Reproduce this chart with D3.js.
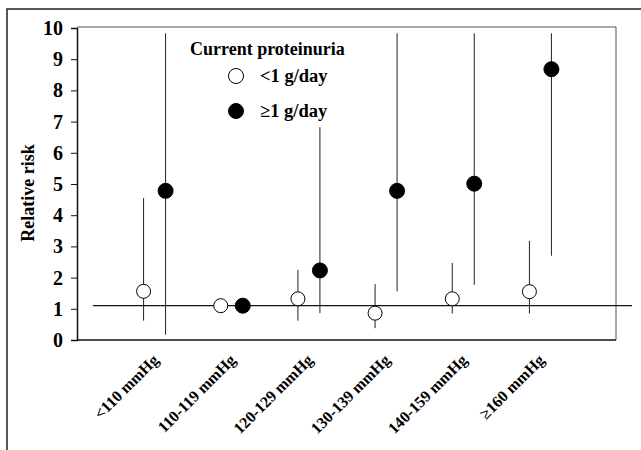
<!DOCTYPE html>
<html>
<head>
<meta charset="utf-8">
<script src="https://cdn.jsdelivr.net/npm/d3@7"></script>
<style>
  body { margin: 0; background: #fff; }
  svg { display: block; font-family: 'Liberation Serif', 'Times New Roman', serif; }
</style>
</head>
<body>
<div id="chart"></div>
<script>
const categories = ['<110 mmHg', '110-119 mmHg', '120-129 mmHg', '130-139 mmHg', '140-159 mmHg', '\u2265160 mmHg']
const yTicks = [0, 1, 2, 3, 4, 5, 6, 7, 8, 9, 10]
const refValue = 1.1

// <1 g/day (open circles)
const lowRisk = [1.56, 1.1, 1.32, 0.86, 1.32, 1.55]
const lowLower = [0.62, 1.1, 0.62, 0.38, 0.85, 0.85]
const lowUpper = [4.55, 1.1, 2.25, 1.79, 2.47, 3.18]

// >=1 g/day (filled circles)
const highRisk = [4.78, 1.1, 2.23, 4.78, 5.01, 8.68]
const highLower = [0.17, 1.1, 0.86, 1.56, 1.77, 2.7]
const highUpper = [9.83, 1.1, 6.82, 9.83, 9.83, 9.83]

const W = 641, H = 450
const margin = { top: 27, right: 25, bottom: 110, left: 77 }

const svg = d3.select('#chart').append('svg')
  .attr('width', W)
  .attr('height', H)

// outer frame (only left and top visible)
svg.append('path')
  .attr('d', `M7,${H} L7,9 L${W},9`)
  .attr('fill', 'none')
  .attr('stroke', '#222')
  .attr('stroke-width', 1.5)

const x = d3.scaleBand()
  .domain(categories)
  .range([116, 579])
  .padding(0)

const y = d3.scaleLinear()
  .domain([0, 10])
  .range([H - margin.bottom, margin.top + 1])

const dodge = 11
const r = 7

// plot frame
svg.append('path')
  .attr('d', `M${margin.left},${margin.top} L${W - margin.right},${margin.top} L${W - margin.right},${y(0)}`)
  .attr('fill', 'none')
  .attr('stroke', '#555')
  .attr('stroke-width', 1)

// y axis
const yAxis = svg.append('g')
  .attr('transform', `translate(${margin.left},0)`)
  .call(d3.axisLeft(y).tickValues(yTicks).tickSize(6).tickPadding(8).tickFormat(d3.format('d')))
yAxis.select('.domain').attr('stroke', '#111').attr('stroke-width', 1.5)
yAxis.selectAll('.tick line').attr('stroke', '#111')
yAxis.selectAll('.tick text')
  .attr('font-size', '20px')
  .attr('font-weight', 'bold')
  .attr('font-family', "'Liberation Serif', serif")
  .attr('fill', '#000')

// x axis (line only, labels rotated)
const xAxis = svg.append('g')
  .attr('transform', `translate(0,${y(0)})`)
  .call(d3.axisBottom(x).tickSize(0).tickPadding(0))
xAxis.select('.domain')
  .attr('d', `M${margin.left},0H${W - margin.right}`)
  .attr('stroke', '#111')
  .attr('stroke-width', 1.5)
xAxis.selectAll('.tick text')
  .attr('font-size', '16px')
  .attr('font-weight', 'bold')
  .attr('font-family', "'Liberation Serif', serif")
  .attr('fill', '#000')
  .attr('text-anchor', 'end')
  .attr('dy', null)
  .attr('y', 0)
  .attr('transform', 'translate(5,21) rotate(-45)')

// y title
svg.append('text')
  .attr('transform', `translate(34,${193}) rotate(-90)`)
  .attr('text-anchor', 'middle')
  .attr('font-size', '18px')
  .attr('font-weight', 'bold')
  .text('Relative risk')

// reference line
svg.append('line')
  .attr('x1', 93)
  .attr('x2', 632)
  .attr('y1', y(refValue))
  .attr('y2', y(refValue))
  .attr('stroke', '#111')
  .attr('stroke-width', 1.2)

const cx = (i, side) => x(categories[i]) + x.bandwidth() / 2 + side * dodge

const lowData = categories.map((c, i) => ({ i, v: lowRisk[i], lo: lowLower[i], hi: lowUpper[i] }))
const highData = categories.map((c, i) => ({ i, v: highRisk[i], lo: highLower[i], hi: highUpper[i] }))

function drawSeries(data, side, fill) {
  const g = svg.append('g')
  g.selectAll('line.ci')
    .data(data)
    .enter()
    .append('line')
    .attr('class', 'ci')
    .attr('x1', d => cx(d.i, side))
    .attr('x2', d => cx(d.i, side))
    .attr('y1', d => y(d.lo))
    .attr('y2', d => y(d.hi))
    .attr('stroke', '#222')
    .attr('stroke-width', 1)
  g.selectAll('circle')
    .data(data)
    .enter()
    .append('circle')
    .attr('cx', d => cx(d.i, side))
    .attr('cy', d => y(d.v))
    .attr('r', side < 0 ? r : r + 0.5)
    .attr('fill', fill)
    .attr('stroke', '#000')
    .attr('stroke-width', 1)
}

drawSeries(lowData, -1, '#fff')
drawSeries(highData, 1, '#000')

// legend
const legend = svg.append('g')
legend.append('text')
  .attr('x', 190)
  .attr('y', 55)
  .attr('font-size', '18px')
  .attr('font-weight', 'bold')
  .text('Current proteinuria')

const legendItems = [
  { label: '<1 g/day', fill: '#fff', y: 76 },
  { label: '\u22651 g/day', fill: '#000', y: 111 }
]
legendItems.forEach(d => {
  legend.append('circle')
    .attr('cx', 236)
    .attr('cy', d.y)
    .attr('r', 7.5)
    .attr('fill', d.fill)
    .attr('stroke', '#000')
  legend.append('text')
    .attr('x', 260)
    .attr('y', d.y + 6)
    .attr('font-size', '18.5px')
    .attr('font-weight', 'bold')
    .text(d.label)
})
</script>
</body>
</html>
